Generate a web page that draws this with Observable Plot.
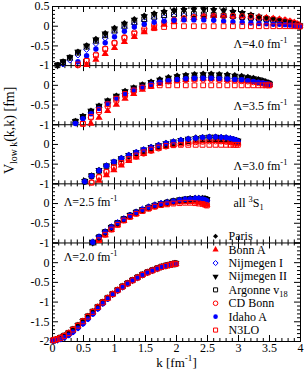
<!DOCTYPE html>
<html><head><meta charset="utf-8">
<script src="https://cdn.jsdelivr.net/npm/d3@7"></script>
<script src="https://cdn.jsdelivr.net/npm/@observablehq/plot@0.6"></script>
<style>body{margin:0;background:#fff;}</style>
</head><body><div id="chart"></div>
<script>
// ---------- DATA ----------
const xTickLabels = ["0","0.5","1","1.5","2","2.5","3","3.5","4"];
const seriesNames = ["Paris","Bonn A","Nijmegen I","Nijmegen II","Argonne v18","CD Bonn","Idaho A","N3LO"];
const legendLabels = ["Paris","Bonn A","Nijmegen I","Nijmegen II","Argonne v_{18}","CD Bonn","Idaho A","N3LO"];

// Lambda = 4.0
const k40 = [0.02,0.08,0.17,0.28,0.41,0.55,0.70,0.85,1.00,1.16,1.32,1.48,1.64,1.80,1.96,2.12,2.28,2.44,2.60,2.76,2.91,3.06,3.20,3.33,3.45,3.56,3.66,3.75,3.83,3.90,3.95,3.99];
const paris40 = [null,-0.98,-0.89,-0.78,-0.64,-0.48,-0.32,-0.17,-0.04,0.08,0.18,0.27,0.33,0.38,0.41,0.43,0.44,0.44,0.43,0.41,0.38,0.35,0.30,0.25,0.21,0.18,0.14,0.11,0.08,0.05,0.03,0.01];
const bonnA40 = [null,null,null,null,null,-0.98,-0.85,-0.70,-0.55,-0.40,-0.27,-0.15,-0.05,0.04,0.11,0.17,0.21,0.24,0.26,0.27,0.27,0.26,0.25,0.23,0.21,0.19,0.17,0.15,0.12,0.09,0.05,0.01];
const nijm1_40 = [null,null,-0.96,-0.86,-0.73,-0.59,-0.44,-0.30,-0.17,-0.05,0.05,0.13,0.19,0.23,0.26,0.27,0.27,0.27,0.26,0.25,0.23,0.21,0.19,0.17,0.15,0.13,0.11,0.09,0.07,0.05,0.03,0.01];
const nijm2_40 = [null,-0.99,-0.90,-0.79,-0.65,-0.50,-0.34,-0.19,-0.06,0.06,0.16,0.25,0.31,0.36,0.39,0.41,0.42,0.42,0.41,0.39,0.36,0.33,0.28,0.24,0.20,0.17,0.13,0.10,0.07,0.05,0.03,0.01];
const av18_40 = [null,-0.99,-0.91,-0.80,-0.67,-0.52,-0.37,-0.23,-0.11,0.01,0.10,0.18,0.24,0.28,0.30,0.31,0.31,0.30,0.29,0.27,0.25,0.23,0.21,0.19,0.17,0.15,0.13,0.10,0.08,0.05,0.03,0.01];
const cdbonn40 = [null,null,null,null,-0.99,-0.86,-0.72,-0.57,-0.42,-0.28,-0.16,-0.06,0.03,0.10,0.16,0.20,0.23,0.25,0.26,0.26,0.26,0.25,0.24,0.22,0.21,0.19,0.17,0.15,0.12,0.09,0.05,0.01];
const idaho40 = [null,null,null,null,-0.90,-0.75,-0.58,-0.42,-0.27,-0.13,-0.02,0.05,0.10,0.13,0.15,0.16,0.16,0.16,0.15,0.13,0.11,0.10,0.08,0.07,0.06,0.05,0.05,0.04,0.03,0.02,0.01,0.00];
const n3lo40 = [null,null,null,null,-0.97,-0.88,-0.74,-0.58,-0.43,-0.30,-0.19,-0.11,-0.05,-0.02,0,0,0,0,0,0,0,0,0,0,0,0,0,0,0,0,0,-0.01];
const yLabels40 = ["0.5","0","-0.5","-1"];

// Lambda = 3.5
const k35 = [0.02,0.08,0.16,0.26,0.37,0.49,0.62,0.75,0.89,1.03,1.17,1.31,1.45,1.59,1.73,1.87,2.01,2.15,2.29,2.43,2.56,2.69,2.82,2.94,3.05,3.15,3.24,3.32,3.39,3.44,3.48,3.50];
const paris35 = [null,null,null,null,-0.90,-0.77,-0.64,-0.51,-0.38,-0.26,-0.14,-0.05,0.03,0.10,0.16,0.21,0.25,0.27,0.29,0.30,0.30,0.29,0.28,0.26,0.24,0.22,0.19,0.16,0.13,0.10,0.07,0.05];
const bonnA35 = [null,null,null,null,null,null,-0.97,-0.82,-0.65,-0.49,-0.34,-0.22,-0.11,-0.03,0.04,0.09,0.12,0.14,0.15,0.16,0.16,0.15,0.14,0.13,0.12,0.11,0.09,0.07,0.05,0.04,0.02,0.01];
const nijm1_35 = [null,null,null,null,-0.95,-0.83,-0.70,-0.57,-0.44,-0.32,-0.21,-0.11,-0.03,0.04,0.09,0.13,0.16,0.18,0.19,0.20,0.20,0.19,0.18,0.17,0.16,0.14,0.12,0.10,0.08,0.06,0.04,0.02];
const nijm2_35 = [null,null,null,null,-0.91,-0.78,-0.65,-0.52,-0.39,-0.27,-0.15,-0.06,0.02,0.08,0.14,0.19,0.23,0.25,0.27,0.28,0.28,0.27,0.26,0.24,0.22,0.20,0.18,0.15,0.12,0.09,0.06,0.04];
const av18_35 = [null,null,null,null,-0.92,-0.80,-0.67,-0.55,-0.42,-0.30,-0.19,-0.10,-0.02,0.04,0.09,0.13,0.16,0.18,0.20,0.21,0.21,0.20,0.19,0.18,0.17,0.15,0.13,0.11,0.09,0.07,0.05,0.03];
const cdbonn35 = [null,null,null,null,null,-0.96,-0.82,-0.68,-0.54,-0.40,-0.27,-0.16,-0.07,0.01,0.06,0.10,0.13,0.14,0.15,0.15,0.15,0.14,0.13,0.12,0.11,0.10,0.08,0.06,0.05,0.03,0.02,0.01];
const idaho35 = [null,null,null,null,-0.97,-0.85,-0.72,-0.59,-0.46,-0.33,-0.22,-0.12,-0.04,0.03,0.08,0.12,0.15,0.17,0.18,0.18,0.18,0.17,0.16,0.15,0.14,0.12,0.10,0.08,0.06,0.04,0.03,0.02];
const n3lo35 = [null,null,null,null,null,-0.98,-0.80,-0.63,-0.48,-0.34,-0.22,-0.13,-0.06,-0.02,0,0,0,0,0,0,0,0,0,0,0,0,0,0,0,0,0,0];
const yLabels35 = ["0","-0.5","-1"];

// Lambda = 3.0
const k30 = [0.02,0.07,0.14,0.22,0.31,0.41,0.52,0.63,0.75,0.87,0.99,1.11,1.23,1.35,1.47,1.59,1.71,1.83,1.95,2.07,2.19,2.31,2.42,2.53,2.63,2.72,2.80,2.87,2.92,2.96,2.99];
const paris30 = [null,null,null,null,null,null,-0.92,-0.78,-0.64,-0.53,-0.43,-0.34,-0.26,-0.19,-0.12,-0.06,-0.01,0.04,0.08,0.12,0.15,0.18,0.19,0.20,0.20,0.19,0.18,0.16,0.14,0.12,0.10];
const bonnA30 = [null,null,null,null,null,null,null,null,-0.92,-0.78,-0.65,-0.53,-0.42,-0.33,-0.24,-0.17,-0.10,-0.05,-0.01,0.02,0.05,0.07,0.08,0.09,0.09,0.08,0.07,0.06,0.05,0.04,0.03];
const nijm1_30 = [null,null,null,null,null,null,-0.95,-0.81,-0.67,-0.55,-0.45,-0.36,-0.28,-0.21,-0.14,-0.08,-0.03,0.02,0.06,0.10,0.13,0.16,0.17,0.18,0.18,0.18,0.17,0.15,0.13,0.11,0.09];
const nijm2_30 = [null,null,null,null,null,null,-0.93,-0.79,-0.65,-0.54,-0.44,-0.35,-0.27,-0.20,-0.13,-0.07,-0.02,0.03,0.07,0.11,0.14,0.16,0.18,0.19,0.19,0.18,0.17,0.15,0.13,0.11,0.09];
const av18_30 = [null,null,null,null,null,null,-0.94,-0.80,-0.67,-0.56,-0.46,-0.37,-0.29,-0.22,-0.16,-0.10,-0.05,-0.01,0.03,0.06,0.09,0.11,0.13,0.14,0.14,0.14,0.13,0.12,0.11,0.09,0.08];
const cdbonn30 = [null,null,null,null,null,null,null,-0.96,-0.82,-0.69,-0.58,-0.48,-0.39,-0.31,-0.23,-0.16,-0.10,-0.05,-0.01,0.02,0.04,0.06,0.07,0.08,0.08,0.08,0.07,0.06,0.05,0.04,0.03];
const idaho30 = [null,null,null,null,null,null,-0.94,-0.80,-0.66,-0.54,-0.44,-0.35,-0.27,-0.20,-0.13,-0.07,-0.02,0.03,0.07,0.11,0.14,0.16,0.18,0.19,0.19,0.18,0.17,0.15,0.13,0.11,0.08];
const n3lo30 = [null,null,null,null,null,null,null,-0.97,-0.83,-0.70,-0.58,-0.47,-0.37,-0.28,-0.20,-0.13,-0.08,-0.04,-0.02,-0.01,-0.01,-0.01,-0.01,-0.01,-0.01,-0.01,-0.01,-0.01,-0.01,-0.01,-0.01];
const yLabels30 = ["0","-0.5","-1"];

// Lambda = 2.5
const k25 = [0.02,0.06,0.12,0.19,0.27,0.36,0.45,0.55,0.65,0.75,0.85,0.95,1.05,1.15,1.25,1.35,1.45,1.55,1.65,1.75,1.85,1.95,2.05,2.14,2.22,2.30,2.36,2.42,2.46,2.49];
const paris25 = [null,null,null,null,null,null,null,null,-0.99,-0.85,-0.72,-0.60,-0.49,-0.39,-0.30,-0.22,-0.15,-0.09,-0.04,0.00,0.04,0.07,0.10,0.12,0.14,0.15,0.15,0.15,0.14,0.12];
const bonnA25 = [null,null,null,null,null,null,null,null,null,-0.94,-0.80,-0.67,-0.55,-0.44,-0.34,-0.26,-0.19,-0.13,-0.08,-0.04,-0.01,0.02,0.04,0.05,0.05,0.05,0.04,0.02,0.00,-0.03];
const nijm1_25 = [null,null,null,null,null,null,null,null,-0.97,-0.84,-0.71,-0.59,-0.48,-0.38,-0.29,-0.21,-0.14,-0.08,-0.03,0.01,0.04,0.07,0.09,0.11,0.12,0.13,0.13,0.12,0.10,0.08];
const nijm2_25 = [null,null,null,null,null,null,null,null,-0.99,-0.85,-0.72,-0.60,-0.49,-0.39,-0.30,-0.22,-0.15,-0.09,-0.04,0.00,0.04,0.07,0.10,0.12,0.13,0.14,0.14,0.14,0.13,0.11];
const av18_25 = [null,null,null,null,null,null,null,null,-0.99,-0.85,-0.72,-0.60,-0.49,-0.39,-0.30,-0.22,-0.16,-0.10,-0.05,-0.01,0.03,0.06,0.08,0.10,0.11,0.12,0.12,0.12,0.11,0.09];
const cdbonn25 = [null,null,null,null,null,null,null,null,null,-0.92,-0.78,-0.65,-0.53,-0.42,-0.33,-0.25,-0.18,-0.12,-0.07,-0.03,0.00,0.03,0.05,0.06,0.06,0.05,0.04,0.02,0.00,-0.03];
const idaho25 = [null,null,null,null,null,null,null,null,-0.98,-0.85,-0.72,-0.60,-0.49,-0.39,-0.30,-0.22,-0.15,-0.09,-0.04,0.00,0.03,0.06,0.09,0.11,0.12,0.13,0.13,0.12,0.10,0.07];
const n3lo25 = [null,null,null,null,null,null,null,null,null,-0.93,-0.79,-0.66,-0.54,-0.43,-0.34,-0.26,-0.19,-0.13,-0.08,-0.04,-0.02,0.00,0.01,0.02,0.02,0.01,0.00,-0.01,-0.03,-0.05];
const yLabels25 = ["0","-0.5","-1"];

// Lambda = 2.0
const k20 = [0.01,0.04,0.08,0.13,0.19,0.26,0.33,0.41,0.49,0.57,0.65,0.73,0.81,0.89,0.97,1.05,1.13,1.21,1.29,1.37,1.45,1.53,1.61,1.69,1.76,1.83,1.89,1.94,1.97,1.99];
const black20 = [-1.97,-1.96,-1.94,-1.90,-1.85,-1.78,-1.69,-1.59,-1.48,-1.36,-1.24,-1.12,-1.00,-0.89,-0.79,-0.69,-0.60,-0.52,-0.44,-0.37,-0.30,-0.24,-0.19,-0.14,-0.10,-0.07,-0.05,-0.03,-0.02,-0.02];
const blue20 = [-1.98,-1.97,-1.96,-1.94,-1.90,-1.84,-1.76,-1.66,-1.55,-1.43,-1.30,-1.17,-1.04,-0.92,-0.81,-0.71,-0.62,-0.53,-0.45,-0.38,-0.31,-0.25,-0.20,-0.15,-0.11,-0.08,-0.06,-0.04,-0.03,-0.03];
const red20 = [-1.97,-1.96,-1.94,-1.91,-1.86,-1.79,-1.70,-1.60,-1.49,-1.37,-1.25,-1.13,-1.01,-0.90,-0.80,-0.70,-0.61,-0.53,-0.45,-0.38,-0.31,-0.25,-0.20,-0.15,-0.11,-0.08,-0.06,-0.04,-0.03,-0.03];
const yLabels20 = ["0","-0.5","-1","-1.5","-2"];

// ---------- LAYOUT ----------
const W = 305, H = 375, mL = 52, mR = 5, mT = 6, mB = 34;

const panels = [
  {lo:-1, hi:0.5, k:k40, yl:yLabels40, v:[paris40,bonnA40,nijm1_40,nijm2_40,av18_40,cdbonn40,idaho40,n3lo40]},
  {lo:-1, hi:0.5, k:k35, yl:yLabels35, v:[paris35,bonnA35,nijm1_35,nijm2_35,av18_35,cdbonn35,idaho35,n3lo35]},
  {lo:-1, hi:0.5, k:k30, yl:yLabels30, v:[paris30,bonnA30,nijm1_30,nijm2_30,av18_30,cdbonn30,idaho30,n3lo30]},
  {lo:-1, hi:0.5, k:k25, yl:yLabels25, v:[paris25,bonnA25,nijm1_25,nijm2_25,av18_25,cdbonn25,idaho25,n3lo25]},
  {lo:-2, hi:0.5, k:k20, yl:yLabels20, v:[black20,red20,blue20,black20,black20,red20,blue20,red20]}
];
let base = 0;
for (let i = panels.length - 1; i >= 0; i--) {
  const p = panels[i];
  p.off = base - p.lo; p.bottom = base; base += p.hi - p.lo; p.top = base;
}
const total = base;
const pxY = (H - mT - mB) / total, pxX = (W - mL - mR) / 4;

const triDown = {draw(ctx, size) {
  const s3 = Math.sqrt(3), y = -Math.sqrt(size / (s3 * 3));
  ctx.moveTo(0, -y * 2); ctx.lineTo(-s3 * y, y); ctx.lineTo(s3 * y, y); ctx.closePath();
}};
const styles = [
  {symbol:"diamond2", fill:"black", stroke:"none"},
  {symbol:"triangle", fill:"red", stroke:"none"},
  {symbol:"diamond2", fill:"none", stroke:"blue"},
  {symbol:triDown, fill:"black", stroke:"none"},
  {symbol:"square", fill:"none", stroke:"black"},
  {symbol:"circle", fill:"none", stroke:"red"},
  {symbol:"circle", fill:"blue", stroke:"none"},
  {symbol:"square", fill:"none", stroke:"red"}
];
const R = 2.7, RL = 2.3;

// data rows
const rows = [];
panels.forEach((p, pi) => p.v.forEach((arr, si) => arr.forEach((val, j) => {
  if (val != null && val >= p.lo - 1e-9 && val <= p.hi) rows.push({k: p.k[j], y: val + p.off, s: si});
})));

// ticks
const xMajor = xTickLabels.map(Number);
const xMinor = d3.range(0, 40).map(i => i / 10).filter(v => Math.abs(v * 2 - Math.round(v * 2)) > 1e-6);
const bounds = [0, ...panels.map(p => p.top)];
const maj = 6, mnr = 3;
const xTicks = [];
for (const b of bounds) {
  for (const [list, len] of [[xMajor, maj], [xMinor, mnr]]) for (const x of list) {
    if (b < total - 1e-9) xTicks.push({x, y1: b, y2: b + len / pxY});
    if (b > 1e-9) xTicks.push({x, y1: b, y2: b - len / pxY});
  }
}
const yTicks = [], yLabelRows = [];
panels.forEach((p, pi) => {
  const n = Math.round((p.hi - p.lo) / 0.1);
  for (let i = 0; i <= n; i++) {
    const v = p.lo + i * 0.1;
    const isMaj = Math.abs(v * 2 - Math.round(v * 2)) < 1e-6;
    const len = (isMaj ? maj : mnr) / pxX;
    yTicks.push({y: v + p.off, x1: 0, x2: len});
    yTicks.push({y: v + p.off, x1: 4, x2: 4 - len});
  }
  for (const lab of p.yl) yLabelRows.push({y: Number(lab) + p.off, label: lab});
});

// annotations (panel-local value + offset)
const annots = [
  {k: 2.92, y: -0.46 + panels[0].off, t: "Λ=4.0 fm^{-1}"},
  {k: 2.92, y: -0.53 + panels[1].off, t: "Λ=3.5 fm^{-1}"},
  {k: 2.92, y: -0.56 + panels[2].off, t: "Λ=3.0 fm^{-1}"},
  {k: 0.18, y: 0.04 + panels[3].off, t: "Λ=2.5 fm^{-1}"},
  {k: 2.92, y: 0.02 + panels[3].off, t: "all ^{3}S_{1}"},
  {k: 0.18, y: 0.13 + panels[4].off, t: "Λ=2.0 fm^{-1}"}
];
const legTop = panels[3].off - 0.83, legStep = 13.4 / pxY;
const legRows = legendLabels.map((t, i) => ({i, t, y: legTop - i * legStep}));

const marks = [
  Plot.frame({stroke: "black", strokeWidth: 1}),
  Plot.ruleY(panels.slice(0, -1).map(p => p.bottom), {stroke: "black", strokeWidth: 1}),
  Plot.ruleX(xTicks, {x: "x", y1: "y1", y2: "y2", stroke: "black", strokeWidth: 1}),
  Plot.ruleY(yTicks, {y: "y", x1: "x1", x2: "x2", stroke: "black", strokeWidth: 1}),
  Plot.text(xMajor, {x: d => d, y: () => 0, text: (d, i) => xTickLabels[i], dy: 7, lineAnchor: "middle", fontSize: 12}),
  Plot.text(yLabelRows, {x: () => 0, y: "y", text: "label", textAnchor: "end", dx: -3, lineAnchor: "middle", fontSize: 12}),
  ...styles.map((st, si) => Plot.dot(rows.filter(d => d.s === si), {x: "k", y: "y", r: R, symbol: st.symbol, fill: st.fill, stroke: st.stroke, strokeWidth: 1})),
  Plot.text(annots, {x: "k", y: "y", text: "t", textAnchor: "start", lineAnchor: "middle", fontSize: 12}),
  ...styles.map((st, si) => Plot.dot(legRows.filter(d => d.i === si), {x: () => 2.63, y: "y", r: RL, symbol: st.symbol, fill: st.fill, stroke: st.stroke, strokeWidth: 1})),
  Plot.text(legRows, {x: () => 2.84, y: "y", text: "t", textAnchor: "start", lineAnchor: "middle", fontSize: 12}),
  Plot.text(["k [fm^{-1}]"], {frameAnchor: "bottom", dy: 21, text: d => d, lineAnchor: "middle", fontSize: 13}),
  Plot.text(["V_{low k}(k,k) [fm]"], {frameAnchor: "left", dx: -39, rotate: -90, text: d => d, lineAnchor: "bottom", fontSize: 14})
];

const svg = Plot.plot({
  width: W, height: H, marginLeft: mL, marginRight: mR, marginTop: mT, marginBottom: mB,
  x: {domain: [0, 4], axis: null},
  y: {domain: [0, total], axis: null},
  style: {fontFamily: "'Liberation Serif', 'Times New Roman', serif", fontSize: "12px", background: "white", color: "black", overflow: "visible"},
  marks
});
document.getElementById("chart").appendChild(svg);

// rich text: ^{..} superscript, _{..} subscript
function rich(el) {
  const s = el.textContent;
  if (!/[_^]\{/.test(s)) return;
  const parts = []; const re = /([_^])\{([^}]*)\}/g; let last = 0, m;
  while ((m = re.exec(s))) {
    if (m.index > last) parts.push({t: s.slice(last, m.index), sh: 0, small: false});
    parts.push({t: m[2], sh: m[1] === "^" ? -0.42 : 0.28, small: true});
    last = re.lastIndex;
  }
  if (last < s.length) parts.push({t: s.slice(last), sh: 0, small: false});
  while (el.firstChild) el.removeChild(el.firstChild);
  let cur = 0;
  for (const p of parts) {
    const ts = document.createElementNS("http://www.w3.org/2000/svg", "tspan");
    const sc = p.small ? 0.7 : 1;
    if (p.small) ts.setAttribute("font-size", "70%");
    const d = (p.sh - cur) / sc;
    if (Math.abs(d) > 1e-6) ts.setAttribute("dy", d.toFixed(3) + "em");
    ts.textContent = p.t;
    el.appendChild(ts);
    cur = p.sh;
  }
}
d3.select(svg).selectAll("text").each(function() { rich(this); });
</script>
</body></html>
